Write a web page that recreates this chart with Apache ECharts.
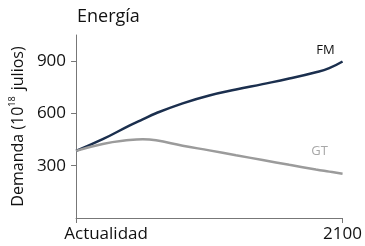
<!DOCTYPE html>
<html>
<head>
<meta charset="utf-8">
<script src="https://cdn.jsdelivr.net/npm/echarts@6/dist/echarts.min.js"></script>
<style>
html,body{margin:0;padding:0;background:#fff;}
#c{width:365px;height:246px;}
</style>
</head>
<body>
<div id="c"></div>
<script>
var xPositions = [0, 10, 20, 25, 30, 40, 50, 60, 70, 80, 90, 95, 100];
var fmValues   = [385, 452, 530, 566, 601, 658, 703, 737, 768, 800, 836, 860, 898];
var gtValues   = [385, 425, 447, 452, 446, 415, 388, 360, 333, 305, 278, 266, 254];
var xTickLabels = {0: 'Actualidad', 100: '2100'};
var yTicks = [300, 600, 900];
var seriesNames = ['FM', 'GT'];

function pairs(xs, ys) { return xs.map(function (x, i) { return [x, ys[i]]; }); }

var FONT = '"Open Sans", "Noto Sans", sans-serif';
var chart = echarts.init(document.getElementById('c'), null, {renderer: 'canvas'});
chart.setOption({
  animation: false,
  backgroundColor: '#fff',
  title: {
    text: 'Energía', left: 72, top: 3,
    textStyle: {fontFamily: FONT, fontSize: 18, fontWeight: 'normal', color: '#111'}
  },
  grid: {left: 74, right: 20, top: 35, bottom: 28, containLabel: false},
  xAxis: {
    type: 'value', min: 0, max: 100,
    splitLine: {show: false},
    axisLine: {lineStyle: {color: '#777', width: 1}},
    axisTick: {show: true, length: 5, lineStyle: {color: '#777'}, customValues: [0, 100]},
    axisLabel: {
      customValues: [0, 100], margin: 8,
      fontFamily: FONT, fontSize: 17, color: '#111',
      formatter: function (v) {
        return v === 0 ? '{p|}{t|' + xTickLabels[0] + '}' : '{t|' + xTickLabels[100] + '}';
      },
      rich: {
        p: {width: 60, fontSize: 17},
        t: {fontFamily: FONT, fontSize: 17, color: '#111'}
      }
    }
  },
  yAxis: {
    type: 'value', min: 0, max: 1050, interval: 300,
    splitLine: {show: false},
    axisLine: {show: true, lineStyle: {color: '#777', width: 1}},
    axisTick: {show: true, length: 5, lineStyle: {color: '#777'}, customValues: yTicks},
    axisLabel: {
      customValues: yTicks, margin: 10,
      fontFamily: FONT, fontSize: 17, color: '#111'
    },
    name: '{a|Demanda (10}{s|18}{a| julios)}',
    nameLocation: 'middle', nameRotate: 90, nameGap: 38,
    nameTextStyle: {
      fontFamily: FONT, fontSize: 16, color: '#111',
      rich: {
        a: {fontFamily: FONT, fontSize: 16, color: '#111', lineHeight: 20},
        s: {fontFamily: FONT, fontSize: 9, color: '#111', lineHeight: 20, verticalAlign: 'top', padding: [0, 2, 8, 0]}
      }
    }
  },
  series: [
    {
      name: seriesNames[0], type: 'line', data: pairs(xPositions, fmValues),
      smooth: 0.45, showSymbol: false, symbol: 'none',
      lineStyle: {color: '#1b2f4e', width: 2.5},
      itemStyle: {color: '#1b2f4e'},
      endLabel: {show: true, formatter: seriesNames[0], offset: [-17, -11], align: 'center', verticalAlign: 'middle', distance: 0,
        fontFamily: FONT, fontSize: 13, color: '#111'}
    },
    {
      name: seriesNames[1], type: 'line', data: pairs(xPositions, gtValues),
      smooth: 0.45, showSymbol: false, symbol: 'none',
      lineStyle: {color: '#9b9b9b', width: 2.5},
      itemStyle: {color: '#9b9b9b'},
      endLabel: {show: true, formatter: seriesNames[1], offset: [-23, -22], align: 'center', verticalAlign: 'middle', distance: 0,
        fontFamily: FONT, fontSize: 13, color: '#a8a8a8'}
    }
  ]
});
</script>
</body>
</html>
